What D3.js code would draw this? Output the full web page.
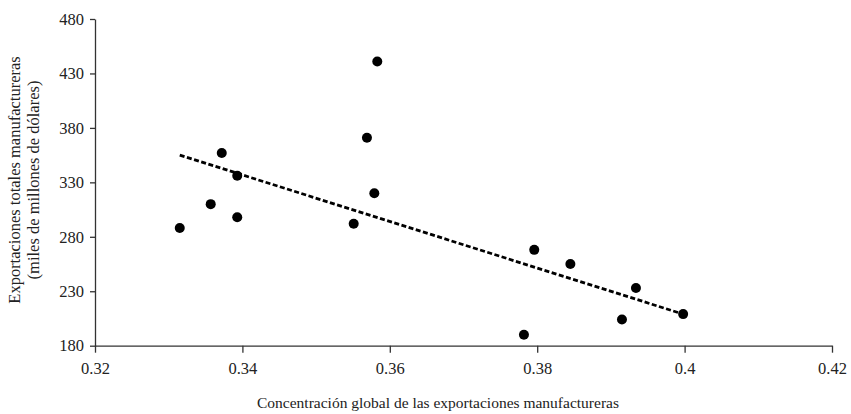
<!DOCTYPE html>
<html>
<head>
<meta charset="utf-8">
<script src="https://cdn.jsdelivr.net/npm/d3@7"></script>
<style>
  html, body { margin: 0; padding: 0; background: #fff; }
  svg { display: block; }
  text { font-family: "Liberation Serif", "DejaVu Serif", serif; fill: #222; }
</style>
</head>
<body>
<script>
// Data
const concentracion = [0.3315, 0.3357, 0.3393, 0.3372, 0.3393, 0.3583, 0.3569, 0.3579, 0.3551, 0.3796, 0.3845, 0.3782, 0.3934, 0.3915, 0.3998];
const exportaciones = [288, 310, 298, 357, 336, 441, 371, 320, 292, 268, 255, 190, 233, 204, 209];
const trendX = [0.3315, 0.3998];
const trendY = [355, 209];
const xTicks = [0.32, 0.34, 0.36, 0.38, 0.4, 0.42];
const yTicks = [180, 230, 280, 330, 380, 430, 480];
const xTitle = "Concentración global de las exportaciones manufactureras";
const yTitle = ["Exportaciones totales manufactureras", "(miles de millones de dólares)"];

const W = 851, H = 414;
const svg = d3.select("body").append("svg").attr("width", W).attr("height", H);

const x = d3.scaleLinear().domain([0.32, 0.42]).range([95, 832]);
const y = d3.scaleLinear().domain([180, 480]).range([345.7, 19]);

const axisColor = "#333";

const xAxis = svg.append("g")
  .attr("transform", `translate(0,${y(180)})`)
  .call(d3.axisBottom(x).tickValues(xTicks).tickFormat(d => String(+d.toFixed(2))).tickSize(7).tickSizeOuter(0).tickPadding(10));
const yAxis = svg.append("g")
  .attr("transform", `translate(${x(0.32)},0)`)
  .call(d3.axisLeft(y).tickValues(yTicks).tickFormat(d3.format("d")).tickSize(5).tickSizeOuter(0).tickPadding(6));

[xAxis, yAxis].forEach(g => {
  g.select(".domain").attr("stroke", axisColor).attr("stroke-width", 1.3);
  g.selectAll(".tick line").attr("stroke", axisColor).attr("stroke-width", 1.3);
  g.selectAll(".tick text")
    .attr("font-family", '"Liberation Serif", "DejaVu Serif", serif')
    .attr("font-size", 16.5).attr("fill", "#222");
});

// trend line
svg.append("line")
  .attr("x1", x(trendX[0])).attr("y1", y(trendY[0]))
  .attr("x2", x(trendX[1])).attr("y2", y(trendY[1]))
  .attr("stroke", "#000").attr("stroke-width", 2.8)
  .attr("stroke-dasharray", "5,2.5");

// points
svg.append("g").selectAll("circle")
  .data(concentracion.map((c, i) => [c, exportaciones[i]]))
  .join("circle")
  .attr("cx", d => x(d[0])).attr("cy", d => y(d[1]))
  .attr("r", 5).attr("fill", "#000");

// titles
svg.append("text")
  .attr("x", 438).attr("y", 408)
  .attr("text-anchor", "middle").attr("font-size", 15.5)
  .text(xTitle);

const yt = svg.append("text")
  .attr("transform", `translate(20,180) rotate(-90)`)
  .attr("text-anchor", "middle").attr("font-size", 16.5);
yTitle.forEach((t, i) => {
  yt.append("tspan").attr("x", 0).attr("dy", i === 0 ? 0 : 19).text(t);
});
</script>
</body>
</html>
